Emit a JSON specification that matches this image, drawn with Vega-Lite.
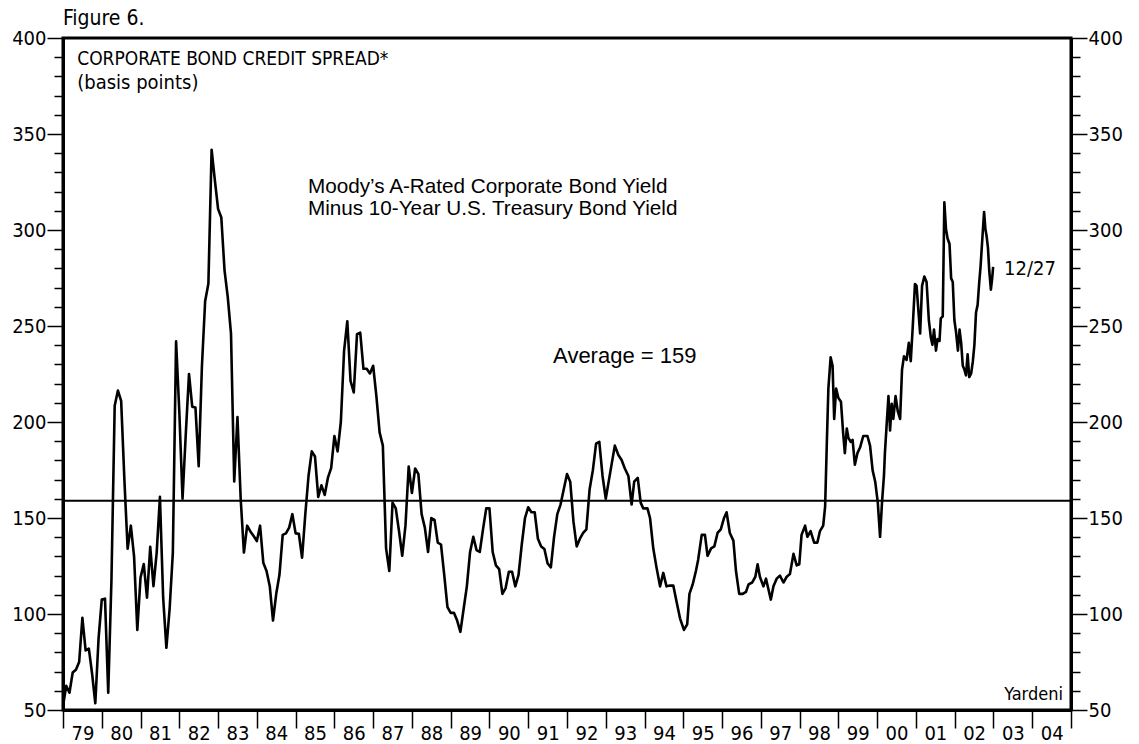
{
  "$schema": "https://vega.github.io/schema/vega-lite/v6.json",
  "width": 1008,
  "height": 672,
  "autosize": "none",
  "padding": {"left": 63, "top": 38, "right": 68, "bottom": 34},
  "background": "white",
  "config": {
    "view": {"stroke": "black", "strokeWidth": 3},
    "axis": {"domainColor": "black", "tickColor": "black", "labelColor": "black", "grid": false, "title": null, "labelFont": "'DejaVu Sans Condensed', 'Liberation Sans', sans-serif", "labelFontSize": 20}
  },
  "datasets": {
    "spread": [
      {"month":0,"spread":52},{"month":1,"spread":62.6},{"month":2,"spread":59},{"month":3,"spread":69.5},{"month":4,"spread":71},{"month":5,"spread":75},{"month":6,"spread":98},{"month":7,"spread":81},{"month":8,"spread":82},{"month":9,"spread":69},{"month":10,"spread":53.5},{"month":11,"spread":87},
      {"month":12,"spread":107.5},{"month":13,"spread":108},{"month":14,"spread":59},{"month":15,"spread":118},{"month":16,"spread":208.5},{"month":17,"spread":216.4},{"month":18,"spread":211},{"month":19,"spread":170},{"month":20,"spread":134},{"month":21,"spread":146},{"month":22,"spread":130},{"month":23,"spread":91.7},
      {"month":24,"spread":119},{"month":25,"spread":126},{"month":26,"spread":108.5},{"month":27,"spread":135},{"month":28,"spread":114.5},{"month":29,"spread":132},{"month":30,"spread":161},{"month":31,"spread":108.5},{"month":32,"spread":82.4},{"month":33,"spread":102.6},{"month":34,"spread":132},{"month":35,"spread":242},
      {"month":36,"spread":205.5},{"month":37,"spread":160},{"month":38,"spread":193.6},{"month":39,"spread":225},{"month":40,"spread":208},{"month":41,"spread":207.5},{"month":42,"spread":177},{"month":43,"spread":229},{"month":44,"spread":263},{"month":45,"spread":272},{"month":46,"spread":341.8},{"month":47,"spread":326},
      {"month":48,"spread":311},{"month":49,"spread":306.5},{"month":50,"spread":279},{"month":51,"spread":265},{"month":52,"spread":246},{"month":53,"spread":169},{"month":54,"spread":202.6},{"month":55,"spread":160},{"month":56,"spread":132},{"month":57,"spread":146},{"month":58,"spread":143},{"month":59,"spread":140.6},
      {"month":60,"spread":138},{"month":61,"spread":146},{"month":62,"spread":126.7},{"month":63,"spread":122.4},{"month":64,"spread":114.5},{"month":65,"spread":96.6},{"month":66,"spread":110.5},{"month":67,"spread":120.4},{"month":68,"spread":141.2},{"month":69,"spread":142},{"month":70,"spread":145},{"month":71,"spread":152},
      {"month":72,"spread":142},{"month":73,"spread":141.8},{"month":74,"spread":129.3},{"month":75,"spread":152},{"month":76,"spread":172},{"month":77,"spread":184.7},{"month":78,"spread":182},{"month":79,"spread":161},{"month":80,"spread":167},{"month":81,"spread":162},{"month":82,"spread":171},{"month":83,"spread":176},
      {"month":84,"spread":192.7},{"month":85,"spread":184.7},{"month":86,"spread":200},{"month":87,"spread":237},{"month":88,"spread":252.5},{"month":89,"spread":221.4},{"month":90,"spread":215.4},{"month":91,"spread":245.7},{"month":92,"spread":246.5},{"month":93,"spread":227.7},{"month":94,"spread":227.7},{"month":95,"spread":225.3},
      {"month":96,"spread":229.3},{"month":97,"spread":213.5},{"month":98,"spread":194.6},{"month":99,"spread":187.7},{"month":100,"spread":134.2},{"month":101,"spread":122.4},{"month":102,"spread":158},{"month":103,"spread":155},{"month":104,"spread":143.2},{"month":105,"spread":130.3},{"month":106,"spread":146},{"month":107,"spread":176.8},
      {"month":108,"spread":163},{"month":109,"spread":175.8},{"month":110,"spread":172.9},{"month":111,"spread":152},{"month":112,"spread":145},{"month":113,"spread":132.3},{"month":114,"spread":150},{"month":115,"spread":149},{"month":116,"spread":137.2},{"month":117,"spread":136.2},{"month":118,"spread":120.4},{"month":119,"spread":103.6},
      {"month":120,"spread":100.6},{"month":121,"spread":100.6},{"month":122,"spread":96.6},{"month":123,"spread":90.7},{"month":124,"spread":102.6},{"month":125,"spread":114.4},{"month":126,"spread":132.3},{"month":127,"spread":140.2},{"month":128,"spread":133.3},{"month":129,"spread":132.3},{"month":130,"spread":144.1},{"month":131,"spread":155},
      {"month":132,"spread":155},{"month":133,"spread":132.3},{"month":134,"spread":125.3},{"month":135,"spread":123.4},{"month":136,"spread":110.5},{"month":137,"spread":113.5},{"month":138,"spread":122},{"month":139,"spread":122},{"month":140,"spread":114.4},{"month":141,"spread":120.4},{"month":142,"spread":136.2},{"month":143,"spread":150},
      {"month":144,"spread":155.6},{"month":145,"spread":153},{"month":146,"spread":153},{"month":147,"spread":139.2},{"month":148,"spread":135.2},{"month":149,"spread":133.9},{"month":150,"spread":126.3},{"month":151,"spread":124.3},{"month":152,"spread":140.2},{"month":153,"spread":152},{"month":154,"spread":157},{"month":155,"spread":165},
      {"month":156,"spread":172.9},{"month":157,"spread":168.9},{"month":158,"spread":148.1},{"month":159,"spread":135.2},{"month":160,"spread":139.2},{"month":161,"spread":142.2},{"month":162,"spread":144.1},{"month":163,"spread":165},{"month":164,"spread":174.8},{"month":165,"spread":188.7},{"month":166,"spread":189.7},{"month":167,"spread":171.9},
      {"month":168,"spread":160},{"month":169,"spread":170},
      {"month":170.8,"spread":187.7},{"month":171.9,"spread":182.8},{"month":172.9,"spread":180.2},{"month":173.9,"spread":175.8},{"month":175,"spread":171.9},{"month":176,"spread":157},{"month":176.8,"spread":168.9},{"month":177.9,"spread":170.9},{"month":178.8,"spread":158},{"month":179.6,"spread":155},{"month":180.9,"spread":155},{"month":181.7,"spread":150},
      {"month":182.7,"spread":134.2},{"month":183.7,"spread":124.3},{"month":184.8,"spread":114.4},{"month":185.8,"spread":121.4},{"month":186.8,"spread":114.4},{"month":187.9,"spread":114.8},{"month":188.9,"spread":114.8},{"month":189.9,"spread":106.5},{"month":191,"spread":97.6},{"month":192.2,"spread":91.7},{"month":193.2,"spread":94.6},{"month":193.9,"spread":110.5},
      {"month":194.9,"spread":115.4},{"month":195.9,"spread":122.4},{"month":196.6,"spread":128.3},{"month":197.7,"spread":141.2},{"month":198.7,"spread":141.2},{"month":199.5,"spread":130.3},{"month":200.6,"spread":134.2},{"month":201.6,"spread":135.2},{"month":202.6,"spread":142.2},{"month":203.6,"spread":144.1},{"month":204.6,"spread":150},{"month":205.4,"spread":153},
      {"month":206.4,"spread":142.2},{"month":207.5,"spread":138.2},{"month":208.3,"spread":122.4},{"month":209.3,"spread":110.5},{"month":210.4,"spread":110.5},{"month":211.4,"spread":111.5},{"month":212.2,"spread":115.4},{"month":213.3,"spread":116.4},{"month":214.3,"spread":119.4},{"month":215,"spread":125.9},{"month":215.7,"spread":119.4},{"month":216.8,"spread":114.4},
      {"month":217.6,"spread":118.4},{"month":218.4,"spread":112.5},{"month":219.1,"spread":107.5},{"month":219.9,"spread":114.4},{"month":220.9,"spread":118.4},{"month":221.9,"spread":120},{"month":223,"spread":116.4},{"month":224,"spread":119.4},{"month":225,"spread":120.8},{"month":226.1,"spread":131.3},{"month":227.1,"spread":125.3},{"month":227.9,"spread":125.9},
      {"month":228.6,"spread":141.2},{"month":229.7,"spread":146},{"month":230.4,"spread":140.2},{"month":231.4,"spread":143.2},{"month":232.5,"spread":137.2},{"month":233.5,"spread":137.2},{"month":234.3,"spread":143.2},{"month":235.3,"spread":146},{"month":235.9,"spread":156},{"month":236.4,"spread":187.7},{"month":236.9,"spread":217.4},{"month":237.6,"spread":233.7},
      {"month":238.2,"spread":229.3},{"month":238.7,"spread":201.6},{"month":239.3,"spread":217.4},{"month":240,"spread":212.5},{"month":240.8,"spread":210.5},{"month":241.5,"spread":193.7},{"month":242,"spread":183.8},{"month":242.6,"spread":196.6},{"month":243.1,"spread":191.7},{"month":243.8,"spread":189.7},{"month":244.4,"spread":190.7},{"month":245.1,"spread":177.8},
      {"month":245.9,"spread":183.8},{"month":246.7,"spread":186.7},{"month":247.7,"spread":192.7},{"month":249,"spread":192.7},{"month":249.8,"spread":187.7},{"month":250.6,"spread":174.8},{"month":251.4,"spread":168.9},{"month":252.2,"spread":158},{"month":252.9,"spread":140.2},{"month":253.5,"spread":158},{"month":254.1,"spread":171.9},{"month":254.4,"spread":183.8},
      {"month":254.9,"spread":197.6},{"month":255.5,"spread":213.5},{"month":256,"spread":195.6},{"month":256.5,"spread":209.5},{"month":257,"spread":201.6},{"month":257.7,"spread":213.5},{"month":258.4,"spread":205.5},{"month":259.1,"spread":201.6},{"month":259.7,"spread":227.3},{"month":260.3,"spread":234.2},{"month":261.1,"spread":232.3},{"month":261.8,"spread":241.2},
      {"month":262.4,"spread":231.7},{"month":263,"spread":249.1},{"month":263.7,"spread":271.9},{"month":264.2,"spread":270.9},{"month":264.9,"spread":255},{"month":265.3,"spread":246.1},{"month":265.9,"spread":270.9},{"month":266.6,"spread":275.8},{"month":267.3,"spread":272.9},{"month":268,"spread":253.1},{"month":268.6,"spread":244.2},{"month":269.1,"spread":240.2},
      {"month":269.6,"spread":248.1},{"month":270.2,"spread":237.2},{"month":270.7,"spread":243.2},{"month":271.3,"spread":242.2},{"month":271.7,"spread":254},{"month":272.3,"spread":255},{"month":272.8,"spread":314.4},{"month":273.3,"spread":300.6},{"month":273.8,"spread":295.6},{"month":274.4,"spread":292.7},{"month":274.9,"spread":274.8},{"month":275.4,"spread":272.9},
      {"month":275.9,"spread":253.1},{"month":276.4,"spread":247.1},{"month":277,"spread":237.2},{"month":277.5,"spread":248.1},{"month":278,"spread":241.2},{"month":278.5,"spread":229.3},{"month":279,"spread":227.3},{"month":279.5,"spread":224.3},{"month":280,"spread":235.2},{"month":280.5,"spread":223.4},{"month":281.1,"spread":225.3},{"month":281.6,"spread":231.3},
      {"month":282.1,"spread":240.2},{"month":282.6,"spread":257},{"month":283.1,"spread":261},{"month":283.6,"spread":272.9},{"month":284,"spread":280.8},{"month":284.6,"spread":296.6},{"month":285.1,"spread":309.4},{"month":285.5,"spread":300.6},{"month":285.9,"spread":296.6},{"month":286.3,"spread":290.7},{"month":286.7,"spread":278.8},{"month":287.2,"spread":268.9},
      {"month":287.6,"spread":274.8},{"month":287.9,"spread":280.8}
    ]
  },
  "layer": [
    {
      "data": {"name": "spread"},
      "mark": {"type": "line", "color": "black", "strokeWidth": 2.6, "strokeJoin": "round"},
      "encoding": {
        "x": {"field": "month", "type": "quantitative", "scale": {"domain": [0, 312], "nice": false, "zero": false},
          "axis": {"orient": "bottom", "values": [0,12,24,36,48,60,72,84,96,108,120,132,144,156,168,180,192,204,216,228,240,252,264,276,288,300,312],
            "labelExpr": "datum.value >= 312 ? '' : slice(toString(1979 + datum.value / 12), 2)",
            "tickSize": 18, "tickWidth": 1.5, "domainWidth": 3, "labelOffset": 19.4, "labelPadding": -5, "labelFlush": false, "labelOverlap": false, "labelBound": false, "labelSeparation": 0, "labelFontSize": 20, "title": null}},
        "y": {"field": "spread", "type": "quantitative", "scale": {"domain": [50, 400], "nice": false, "zero": false},
          "axis": {"orient": "left", "values": [50,100,150,200,250,300,350,400], "tickSize": 16, "tickWidth": 1.5, "domainWidth": 3, "labelPadding": 1, "title": null}}
      }
    },
    {
      "data": {"values": [{}]},
      "mark": {"type": "rule", "color": "black", "strokeWidth": 2},
      "encoding": {
        "y": {"datum": 159, "type": "quantitative", "scale": {"domain": [50, 400], "nice": false, "zero": false},
          "axis": {"orient": "left", "values": [60,70,80,90,110,120,130,140,160,170,180,190,210,220,230,240,260,270,280,290,310,320,330,340,360,370,380,390], "tickSize": 9, "tickWidth": 1.5, "labels": false, "domainWidth": 3, "title": null}}
      }
    },
    {
      "data": {"values": [{}]},
      "mark": {"type": "text", "text": "12/27", "align": "left", "baseline": "alphabetic", "font": "'DejaVu Sans Condensed', 'Liberation Sans', sans-serif", "fontSize": 20, "color": "black"},
      "encoding": {
        "x": {"datum": 291.3, "type": "quantitative", "scale": {"domain": [0, 312], "nice": false, "zero": false}, "axis": null},
        "y": {"datum": 276.5, "type": "quantitative", "scale": {"domain": [50, 400], "nice": false, "zero": false},
          "axis": {"orient": "right", "values": [50,100,150,200,250,300,350,400], "tickSize": 16, "tickWidth": 1.5, "domainWidth": 3, "labelPadding": 1, "title": null}}
      }
    },
    {
      "data": {"values": [{}]},
      "mark": {"type": "text", "text": "Yardeni", "align": "right", "baseline": "alphabetic", "font": "'DejaVu Sans Condensed', 'Liberation Sans', sans-serif", "fontSize": 18, "color": "black"},
      "encoding": {
        "x": {"datum": 309.5, "type": "quantitative", "scale": {"domain": [0, 312], "nice": false, "zero": false}, "axis": null},
        "y": {"datum": 55.2, "type": "quantitative", "scale": {"domain": [50, 400], "nice": false, "zero": false},
          "axis": {"orient": "right", "values": [60,70,80,90,110,120,130,140,160,170,180,190,210,220,230,240,260,270,280,290,310,320,330,340,360,370,380,390], "tickSize": 9, "tickWidth": 1.5, "labels": false, "domainWidth": 3, "title": null}}
      }
    },
    {
      "data": {"values": [{}]},
      "mark": {"type": "text", "text": "Figure 6.", "align": "left", "baseline": "alphabetic", "font": "'DejaVu Sans Condensed', 'Liberation Sans', sans-serif", "fontSize": 21, "color": "black"},
      "encoding": {
        "x": {"datum": 0, "type": "quantitative", "scale": {"domain": [0, 312], "nice": false, "zero": false}, "axis": null},
        "y": {"datum": 406.8, "type": "quantitative", "scale": {"domain": [50, 400], "nice": false, "zero": false}, "axis": null}
      }
    },
    {
      "data": {"values": [{}]},
      "mark": {"type": "text", "text": "CORPORATE BOND CREDIT SPREAD*", "align": "left", "baseline": "alphabetic", "font": "'DejaVu Sans Condensed', 'Liberation Sans', sans-serif", "fontSize": 19, "color": "black"},
      "encoding": {
        "x": {"datum": 4.4, "type": "quantitative", "scale": {"domain": [0, 312], "nice": false, "zero": false}, "axis": null},
        "y": {"datum": 385.9, "type": "quantitative", "scale": {"domain": [50, 400], "nice": false, "zero": false}, "axis": null}
      }
    },
    {
      "data": {"values": [{}]},
      "mark": {"type": "text", "text": "(basis points)", "align": "left", "baseline": "alphabetic", "font": "'DejaVu Sans Condensed', 'Liberation Sans', sans-serif", "fontSize": 20, "color": "black"},
      "encoding": {
        "x": {"datum": 4.4, "type": "quantitative", "scale": {"domain": [0, 312], "nice": false, "zero": false}, "axis": null},
        "y": {"datum": 373.4, "type": "quantitative", "scale": {"domain": [50, 400], "nice": false, "zero": false}, "axis": null}
      }
    },
    {
      "data": {"values": [{}]},
      "mark": {"type": "text", "text": "Moody’s A-Rated Corporate Bond Yield", "align": "left", "baseline": "alphabetic", "font": "Liberation Sans", "fontSize": 20.7, "color": "black"},
      "encoding": {
        "x": {"datum": 75.8, "type": "quantitative", "scale": {"domain": [0, 312], "nice": false, "zero": false}, "axis": null},
        "y": {"datum": 319.3, "type": "quantitative", "scale": {"domain": [50, 400], "nice": false, "zero": false}, "axis": null}
      }
    },
    {
      "data": {"values": [{}]},
      "mark": {"type": "text", "text": "Minus 10-Year U.S. Treasury Bond Yield", "align": "left", "baseline": "alphabetic", "font": "Liberation Sans", "fontSize": 20.7, "color": "black"},
      "encoding": {
        "x": {"datum": 75.8, "type": "quantitative", "scale": {"domain": [0, 312], "nice": false, "zero": false}, "axis": null},
        "y": {"datum": 307.8, "type": "quantitative", "scale": {"domain": [50, 400], "nice": false, "zero": false}, "axis": null}
      }
    },
    {
      "data": {"values": [{}]},
      "mark": {"type": "text", "text": "Average = 159", "align": "left", "baseline": "alphabetic", "font": "Liberation Sans", "fontSize": 22, "color": "black"},
      "encoding": {
        "x": {"datum": 151.7, "type": "quantitative", "scale": {"domain": [0, 312], "nice": false, "zero": false}, "axis": null},
        "y": {"datum": 230.7, "type": "quantitative", "scale": {"domain": [50, 400], "nice": false, "zero": false}, "axis": null}
      }
    }
  ],
  "resolve": {"axis": {"y": "independent", "x": "independent"}}
}
